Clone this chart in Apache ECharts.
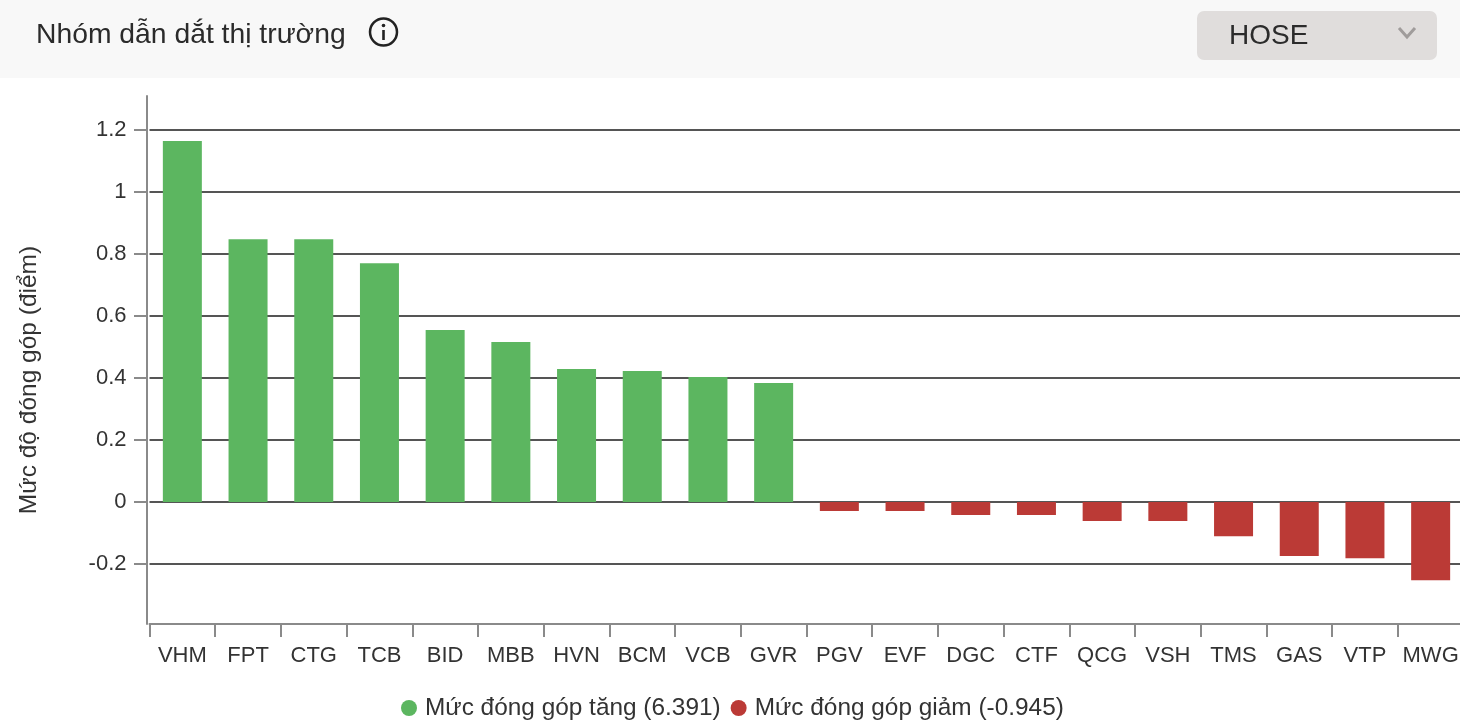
<!DOCTYPE html>
<html><head><meta charset="utf-8">
<style>html,body{margin:0;padding:0;background:#fff}#c{width:1460px;height:723px}</style>
<script src="https://cdn.jsdelivr.net/npm/echarts@6/dist/echarts.min.js"></script>
</head><body><div id="c"></div>
<script>
const categories = ['VHM','FPT','CTG','TCB','BID','MBB','HVN','BCM','VCB','GVR','PGV','EVF','DGC','CTF','QCG','VSH','TMS','GAS','VTP','MWG'];
const gainValues = [1.165,0.848,0.848,0.77,0.555,0.516,0.429,0.423,0.403,0.384,null,null,null,null,null,null,null,null,null,null];
const lossValues = [null,null,null,null,null,null,null,null,null,null,-0.029,-0.029,-0.042,-0.042,-0.061,-0.061,-0.11,-0.174,-0.181,-0.252];
const yTicks = [-0.2,0,0.2,0.4,0.6,0.8,1,1.2];
const gainName = 'Mức đóng góp tăng (6.391)';
const lossName = 'Mức đóng góp giảm (-0.945)';
const yTitle = 'Mức độ đóng góp (điểm)';
const chartTitle = 'Nhóm dẫn dắt thị trường';
const exchange = 'HOSE';

const font = '"Liberation Sans", Arial, sans-serif';
const chart = echarts.init(document.getElementById('c'), null, {renderer:'canvas'});
chart.setOption({
  animation:false,
  textStyle:{fontFamily:font},
  grid:{left:149.5,right:-3.5,top:96,bottom:99,containLabel:false,outerBoundsMode:'none'},
  legend:{bottom:-2,left:396,icon:'circle',itemWidth:16,itemHeight:16,itemGap:10,
    textStyle:{fontFamily:font,fontSize:24.4,color:'#333',padding:[0,0,0,3]},
    data:[gainName,lossName],selectedMode:false},
  xAxis:{type:'category',data:categories,
    axisLine:{onZero:false,lineStyle:{color:'#8a8a8a',width:2}},
    axisTick:{show:true,length:13,alignWithLabel:false,lineStyle:{color:'#8a8a8a',width:2}},
    axisLabel:{interval:0,fontSize:22,color:'#333',margin:21,fontFamily:font,hideOverlap:false},
    splitLine:{show:false}},
  yAxis:{type:'value',min:-0.3935,max:1.31,offset:2.5,
    name:yTitle,nameLocation:'middle',nameGap:105.5,
    nameTextStyle:{fontFamily:font,fontSize:24.5,color:'#333',padding:[0,40,0,0]},
    axisLine:{show:true,lineStyle:{color:'#8a8a8a',width:2}},
    axisTick:{show:true,length:13,customValues:yTicks,lineStyle:{color:'#8a8a8a',width:2}},
    axisLabel:{customValues:yTicks,fontSize:22,color:'#333',margin:20.5,fontFamily:font,
      formatter:v=>String(Math.round(v*10)/10)},
    splitLine:{show:true,lineStyle:{color:'#555',width:2}}},
  series:[
    {name:gainName,type:'bar',data:gainValues,barWidth:39,barGap:'-100%',itemStyle:{color:'#5cb660'},z:3},
    {name:lossName,type:'bar',data:lossValues,barWidth:39,barGap:'-100%',itemStyle:{color:'#bb3a36'},z:3}
  ],
  graphic:[
    {type:'rect',z:10,shape:{x:0,y:0,width:1460,height:78},style:{fill:'#f8f8f8'}},
    {type:'text',z:11,x:36,y:35,style:{text:chartTitle,fontFamily:font,fontSize:28.3,fill:'#2b2b2b',textVerticalAlign:'middle'}},
    {type:'circle',z:11,shape:{cx:383.5,cy:32,r:13.5},style:{fill:'none',stroke:'#222',lineWidth:2.5}},
    {type:'circle',z:11,shape:{cx:383.5,cy:25.5,r:1.8},style:{fill:'#222'}},
    {type:'rect',z:11,shape:{x:382.2,y:30,width:2.6,height:10},style:{fill:'#222'}},
    {type:'rect',z:11,shape:{x:1197,y:11,width:240,height:49,r:7},style:{fill:'#e0dddc'}},
    {type:'text',z:12,x:1229,y:36,style:{text:exchange,fontFamily:font,fontSize:28,fill:'#2b2b2b',textVerticalAlign:'middle'}},
    {type:'polyline',z:12,shape:{points:[[1399,28],[1407,37],[1415,28]]},style:{fill:'none',stroke:'#a09c9b',lineWidth:3}}
  ]
});
</script></body></html>
